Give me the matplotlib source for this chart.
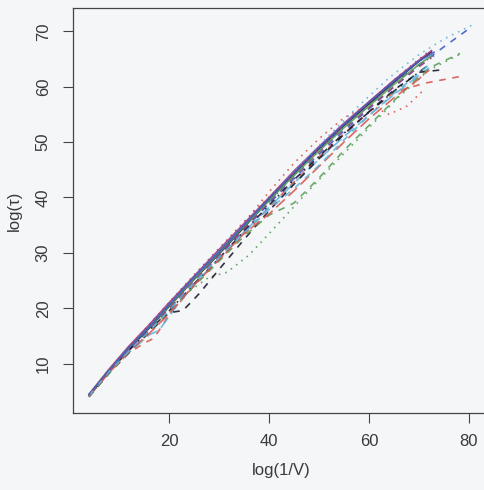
"""Scaling of log(tau) against log(1/V) for many runs (R matplot style)."""

import matplotlib
matplotlib.use("Agg")
import matplotlib.pyplot as plt

# values: one (x, y) pair of lists per run
run_x = [
    [4, 8, 12, 16, 20, 25, 30, 35, 40, 45, 50, 55, 60, 65, 70, 72.5],
    [4, 8, 12, 15, 17, 20, 25, 30, 35, 40, 45, 50, 55, 60, 65, 71, 78],
    [4, 10, 16, 22, 28, 31.6, 36, 42, 48, 54, 60, 66, 72, 78.5],
    [4, 8, 12, 16, 20, 25, 30, 35, 40, 45, 50, 55, 60, 65, 70, 73],
    [4, 8, 12, 16, 18, 22, 26, 30, 35, 40, 45, 50, 55, 60, 65, 70, 72],
    [4, 8, 12, 16, 20, 25, 30, 35, 40, 45, 50, 55, 60, 65, 70, 72.5],
    [4, 8, 12, 16, 20, 22.8, 26, 30, 35, 40, 45, 50, 55, 60, 65, 70, 74.2],
    [4, 8, 12, 16, 20, 25, 30, 35, 40, 45, 50, 55, 60, 64, 67.6, 70.8],
    [4, 8, 12, 16, 20, 25, 30, 35, 40, 45, 50, 55, 60, 65, 70, 73, 78.2],
    [4, 8, 12, 16, 20, 25, 30, 35, 40, 45, 50, 55, 60, 65, 70, 75, 79.6],
    [4, 10, 16, 22, 28, 34, 40, 46, 52, 58, 64, 70, 75, 80.6],
    [4, 8, 12, 16, 20, 25, 30, 35, 40, 45, 50, 55, 60, 65, 70, 72.5],
    [4, 8, 12, 16, 20, 25, 30, 35, 40, 45, 50, 55, 60, 65, 70, 72],
    [4, 8, 12, 16, 20, 25, 30, 35, 40, 45, 50, 55, 60, 65, 70, 72],
    [4, 8, 12, 16, 20, 25, 30, 35, 40, 45, 50, 55, 60, 65, 70, 72.5],
    [4, 8, 12, 16, 20, 25, 30, 35, 40, 45, 50, 55, 60, 65, 70, 73],
    [4, 8, 12, 16, 20, 25, 30, 35, 40, 45, 50, 55, 60, 65, 70, 72],
    [4, 8, 12, 16, 20, 25, 30, 35, 42, 48, 54, 60, 66, 72],
]
run_y = [
    [4.3, 8.6, 12.6, 16.4, 20.3, 25.2, 29.8, 34.6, 39.6, 44.3, 48.8, 53.0, 56.9, 60.8, 64.6, 66.3],
    [4.0, 8.3, 11.9, 13.7, 14.6, 18.8, 24.1, 28.7, 33.3, 38.2, 42.8, 47.3, 51.5, 55.4, 59.0, 60.6, 61.8],
    [4.1, 10.6, 16.4, 21.8, 25.6, 26.5, 29.6, 35.4, 41.3, 47.0, 52.6, 58.2, 63.0, 66.0],
    [4.4, 8.9, 13.0, 16.8, 20.6, 25.4, 30.0, 34.9, 39.2, 44.0, 48.5, 52.8, 56.6, 60.6, 64.0, 65.6],
    [4.2, 8.4, 12.0, 15.2, 16.0, 21.0, 25.2, 29.0, 33.8, 38.2, 42.6, 46.9, 51.0, 54.8, 58.6, 62.0, 63.4],
    [4.5, 9.0, 13.2, 17.0, 21.0, 25.8, 30.6, 35.3, 40.0, 44.8, 49.2, 53.4, 57.3, 61.2, 64.8, 66.5],
    [4.1, 8.3, 12.1, 15.6, 19.2, 19.6, 22.6, 27.0, 32.4, 37.6, 42.4, 47.0, 51.4, 55.5, 59.4, 62.6, 63.0],
    [4.3, 8.7, 12.8, 16.8, 20.6, 25.6, 30.4, 35.4, 41.0, 46.2, 50.6, 54.4, 56.8, 55.0, 56.5, 59.3],
    [4.0, 8.2, 12.2, 15.8, 19.4, 24.0, 28.5, 33.0, 36.8, 39.0, 43.5, 48.5, 53.0, 57.5, 61.8, 63.8, 66.0],
    [4.2, 8.5, 12.4, 16.0, 19.8, 24.6, 29.4, 34.2, 38.9, 43.4, 47.8, 52.0, 56.0, 60.0, 63.8, 67.2, 70.2],
    [4.3, 10.8, 16.6, 22.6, 28.4, 34.0, 39.8, 45.6, 51.2, 56.6, 61.6, 65.8, 68.6, 71.1],
    [4.3, 8.7, 12.7, 16.2, 20.0, 25.0, 29.5, 34.3, 39.2, 43.8, 48.2, 52.4, 56.2, 60.0, 63.6, 65.2],
    [4.2, 8.6, 12.4, 16.0, 19.5, 24.4, 29.0, 33.9, 38.6, 43.2, 47.4, 51.6, 55.4, 59.2, 62.6, 64.0],
    [4.1, 8.4, 12.2, 15.4, 19.0, 24.2, 28.8, 33.5, 37.0, 41.2, 45.6, 50.0, 54.2, 58.0, 61.4, 63.0],
    [4.4, 8.8, 12.9, 16.6, 20.4, 25.3, 30.0, 34.8, 39.4, 44.0, 48.4, 52.6, 56.5, 60.4, 64.0, 65.6],
    [4.4, 8.8, 12.9, 16.6, 20.6, 25.6, 30.2, 35.0, 39.8, 44.5, 49.0, 53.2, 57.2, 61.0, 64.6, 66.2],
    [4.2, 8.5, 12.3, 15.9, 19.6, 24.6, 29.2, 33.6, 37.8, 41.6, 45.8, 50.4, 54.8, 58.8, 62.4, 64.0],
    [4.3, 8.8, 13.0, 17.0, 21.0, 26.0, 30.8, 35.6, 41.8, 47.0, 52.2, 57.2, 62.0, 66.4],
]

# R palette (muted like the scan) and R line types
BLACK, RED, GREEN, BLUE, CYAN, MAGENTA = "#1c1c2e", "#d8584f", "#5aa05a", "#3d5cc4", "#62b4dc", "#a0407f"
SOLID, DASHED, DOTTED, DOTDASH, LONGDASH = None, (4, 4), (1, 3), (1, 3, 4, 3), (7, 3)
run_color = [BLACK, RED, GREEN, BLUE, CYAN, MAGENTA, BLACK, RED, GREEN,
             BLUE, CYAN, MAGENTA, BLACK, RED, GREEN, BLUE, CYAN, MAGENTA]
run_dash = [SOLID, DASHED, DOTTED, DOTDASH, LONGDASH, SOLID, DASHED, DOTTED, DASHED,
            DASHED, DOTTED, DASHED, DOTDASH, LONGDASH, SOLID, SOLID, DASHED, DOTTED]

fig = plt.figure(figsize=(4.85, 4.9), dpi=100, facecolor="#f5f6f8")
ax = fig.add_axes([73 / 485, 77 / 490, 416.5 / 485, 405 / 490], facecolor="#f5f6f8")

for xs, ys, col, dsh in zip(run_x, run_y, run_color, run_dash):
    line, = ax.plot(xs, ys, color=col, lw=1.2, alpha=0.9)
    if dsh is not None:
        line.set_dashes(dsh)

ax.set_xlim(0.8, 84.1)
ax.set_ylim(1.1, 74.2)
ax.set_xticks([20, 40, 60, 80])
ax.set_yticks([10, 20, 30, 40, 50, 60, 70])

font = {"family": ["Liberation Sans", "DejaVu Sans"], "size": 12, "color": "#3a3a3a"}
for lab in ax.get_xticklabels() + ax.get_yticklabels():
    lab.set_fontfamily(font["family"])
    lab.set_fontsize(font["size"])
    lab.set_color(font["color"])
for lab in ax.get_yticklabels():
    lab.set_rotation(90)
    lab.set_verticalalignment("center")

ax.tick_params(axis="both", length=7, width=0.8, color="#444444")
ax.tick_params(axis="x", pad=8)
ax.tick_params(axis="y", pad=9)
for sp in ax.spines.values():
    sp.set_color("#444444")
    sp.set_linewidth(0.9)

ax.set_xlabel("log(1/V)", fontdict=font, labelpad=10)
ax.set_ylabel("log(τ)", fontdict=font, labelpad=10)

fig.savefig("out.png", dpi=100, facecolor=fig.get_facecolor())
